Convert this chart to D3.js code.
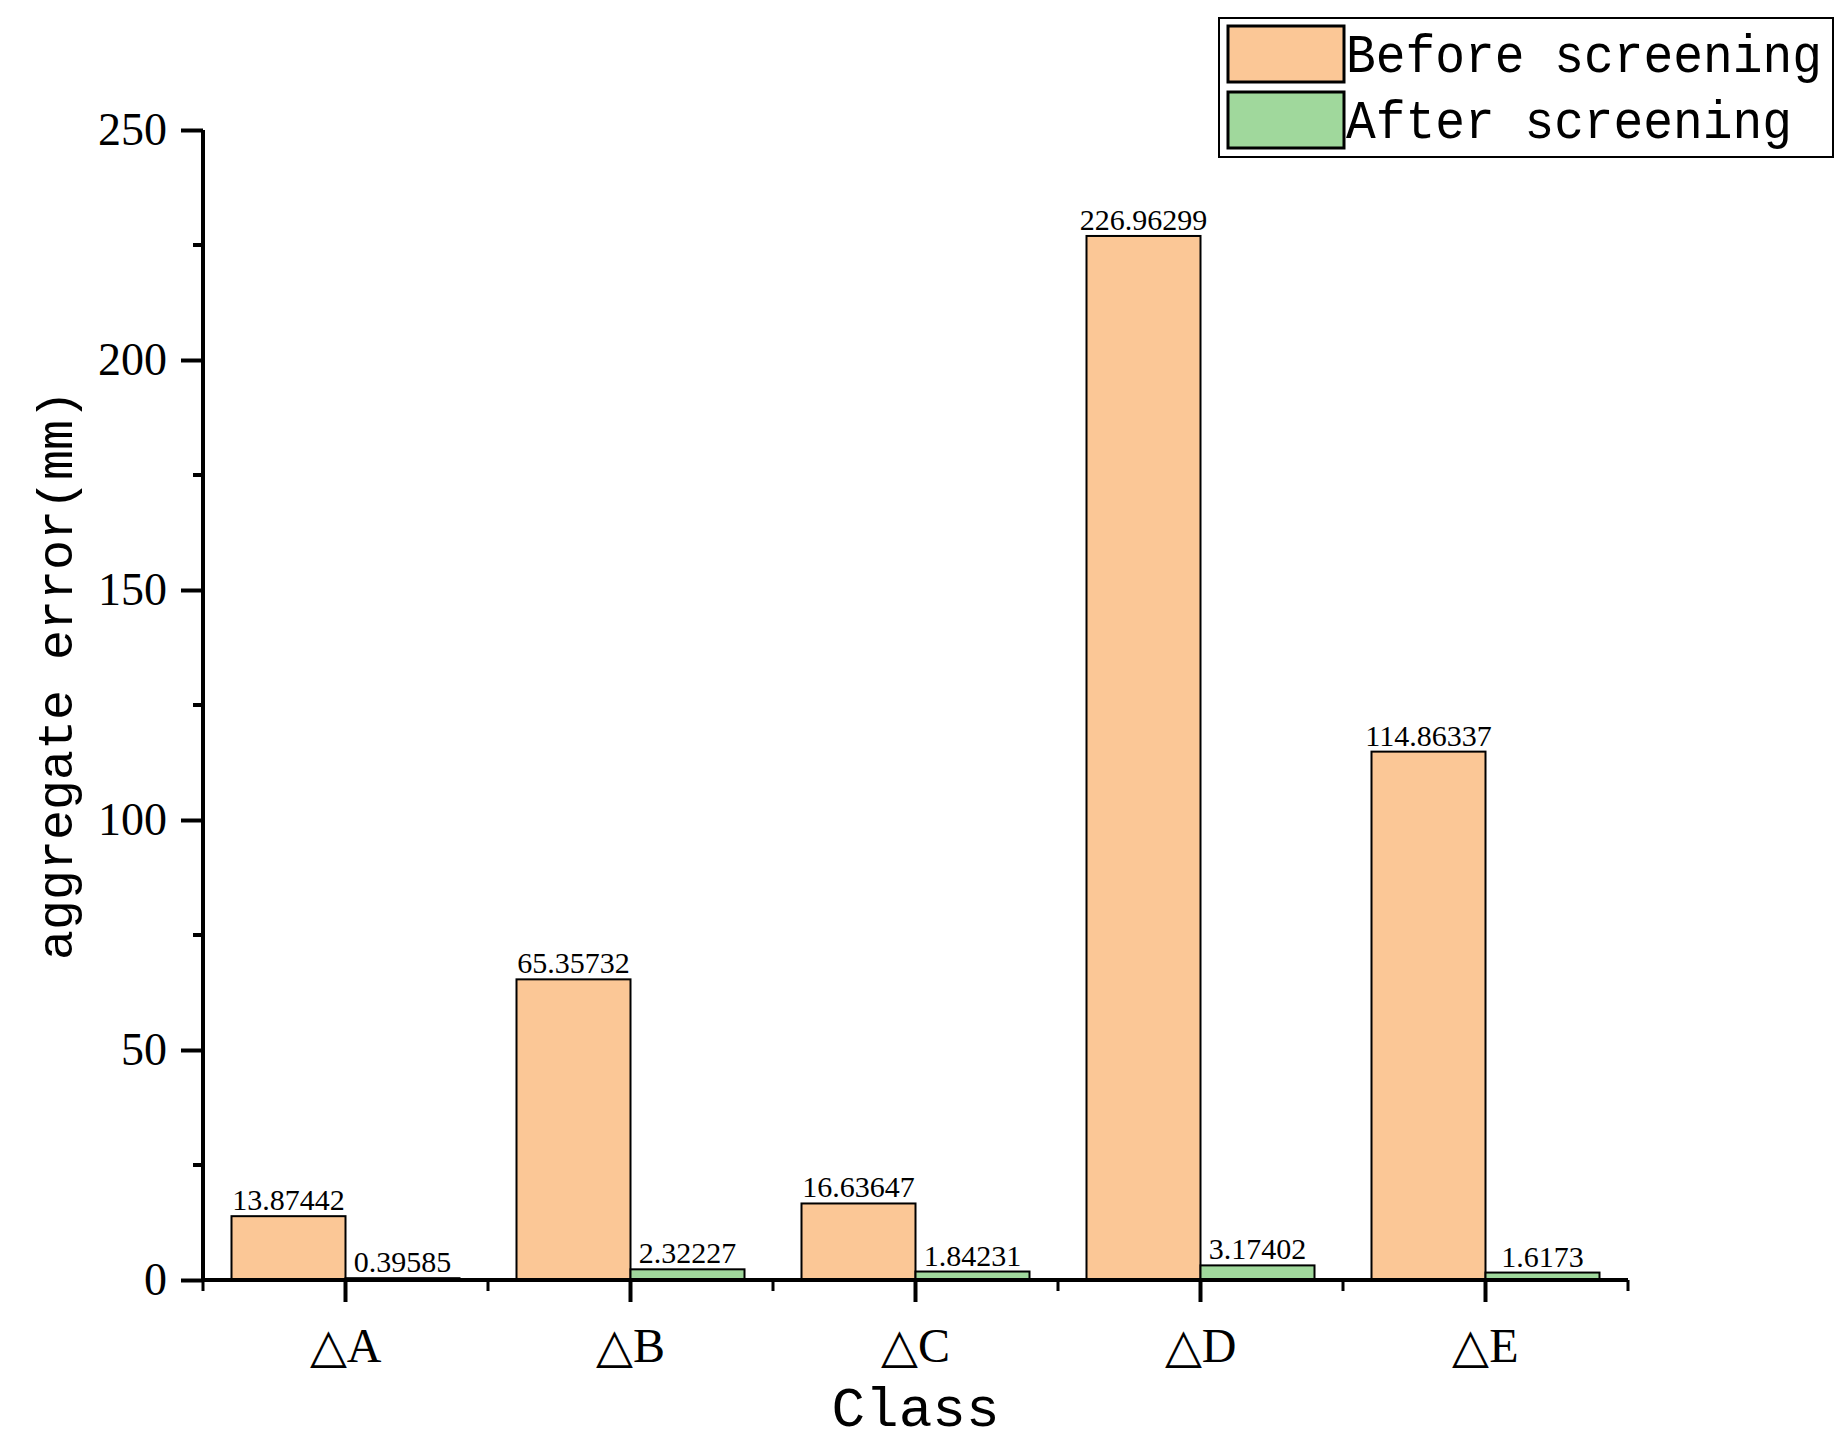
<!DOCTYPE html>
<html><head><meta charset="utf-8">
<script src="https://cdn.jsdelivr.net/npm/d3@7"></script>
<style>body{margin:0;background:#fff}</style></head>
<body><svg width="1841" height="1451"></svg>
<script>
var categories = ["△A", "△B", "△C", "△D", "△E"]
var before = [13.87442, 65.35732, 16.63647, 226.96299, 114.86337]
var after = [0.39585, 2.32227, 1.84231, 3.17402, 1.6173]
var labelsBefore = ["13.87442", "65.35732", "16.63647", "226.96299", "114.86337"]
var labelsAfter = ["0.39585", "2.32227", "1.84231", "3.17402", "1.6173"]
var yTicks = [0, 50, 100, 150, 200, 250]

var margin = ({top: 130, right: 213, bottom: 171, left: 203})
var W = 1841, H = 1451
var svg = d3.select("svg")
var serif = "'Liberation Serif', serif", mono = "'Liberation Mono', monospace"

var x = d3.scaleBand().domain(categories).range([margin.left, W - margin.right])
var y = d3.scaleLinear().domain([0, 250]).range([H - margin.bottom, margin.top])
var bw = x.bandwidth() * 0.4

// bars
var g = svg.append("g")
g.selectAll(".b").data(before).join("rect")
  .attr("x", (d, i) => x(categories[i]) + x.bandwidth() / 2 - bw)
  .attr("y", d => y(d)).attr("width", bw).attr("height", d => y(0) - y(d))
  .attr("fill", "#fbc796").attr("stroke", "#000").attr("stroke-width", 2)
g.selectAll(".a").data(after).join("rect")
  .attr("x", (d, i) => x(categories[i]) + x.bandwidth() / 2)
  .attr("y", d => y(d)).attr("width", bw).attr("height", d => y(0) - y(d))
  .attr("fill", "#a0d89c").attr("stroke", "#000").attr("stroke-width", 2)

g.selectAll(".lb").data(before).join("text")
  .attr("x", (d, i) => x(categories[i]) + x.bandwidth() / 2 - bw / 2)
  .attr("y", d => y(d) - 6).attr("text-anchor", "middle")
  .attr("font-family", serif).attr("font-size", 30)
  .text((d, i) => labelsBefore[i])
g.selectAll(".la").data(after).join("text")
  .attr("x", (d, i) => x(categories[i]) + x.bandwidth() / 2 + bw / 2)
  .attr("y", d => y(d) - 6).attr("text-anchor", "middle")
  .attr("font-family", serif).attr("font-size", 30)
  .text((d, i) => labelsAfter[i])

// y axis
var yAxis = svg.append("g").attr("transform", `translate(${margin.left},0)`)
  .call(d3.axisLeft(y).tickValues(yTicks).tickSize(22).tickPadding(14))
yAxis.selectAll(".domain, line").attr("stroke", "#000").attr("stroke-width", 4)
yAxis.select(".domain").attr("d", `M0,${y(0)}V${y(250)}`)
yAxis.selectAll("text").attr("font-family", serif).attr("font-size", 46).attr("fill", "#000")
yAxis.selectAll(".minor").data(d3.range(25, 250, 50)).join("line")
  .attr("x1", -10).attr("x2", 0).attr("y1", d => y(d)).attr("y2", d => y(d))
  .attr("stroke", "#000").attr("stroke-width", 4)

// x axis
var xAxis = svg.append("g").attr("transform", `translate(0,${y(0)})`)
  .call(d3.axisBottom(x).tickSize(22).tickPadding(26))
xAxis.selectAll(".domain, line").attr("stroke", "#000").attr("stroke-width", 4)
xAxis.select(".domain").attr("d", `M${margin.left},0H${W - margin.right}`)
xAxis.selectAll("text").attr("font-family", serif).attr("font-size", 48).attr("fill", "#000")
xAxis.selectAll(".minor").data(d3.range(6)).join("line")
  .attr("x1", i => margin.left + i * x.step()).attr("x2", i => margin.left + i * x.step())
  .attr("y1", 0).attr("y2", 11).attr("stroke", "#000").attr("stroke-width", 3)

svg.append("text").attr("x", (margin.left + W - margin.right) / 2).attr("y", 1426)
  .attr("text-anchor", "middle").attr("font-family", mono).attr("font-size", 56).text("Class")
svg.append("text").attr("transform", `translate(72,${(y(0) + y(250)) / 2 - 30}) rotate(-90)`)
  .attr("text-anchor", "middle").attr("font-family", mono).attr("font-size", 50)
  .text("aggregate error(mm)")

// legend
var leg = svg.append("g")
leg.append("rect").attr("x", 1219).attr("y", 18).attr("width", 614).attr("height", 139)
  .attr("fill", "#fff").attr("stroke", "#000").attr("stroke-width", 2)
var legItems = [["Before screening", "#fbc796", 476], ["After screening", "#a0d89c", 446]]
legItems.forEach((d, i) => {
  leg.append("rect").attr("x", 1228).attr("y", 26 + i * 66).attr("width", 116).attr("height", 56)
    .attr("fill", d[1]).attr("stroke", "#000").attr("stroke-width", 3)
  leg.append("text").attr("x", 1346).attr("y", 72 + i * 66)
    .attr("font-family", mono).attr("font-size", 54)
    .attr("textLength", d[2]).attr("lengthAdjust", "spacingAndGlyphs").text(d[0])
})
</script></body></html>
